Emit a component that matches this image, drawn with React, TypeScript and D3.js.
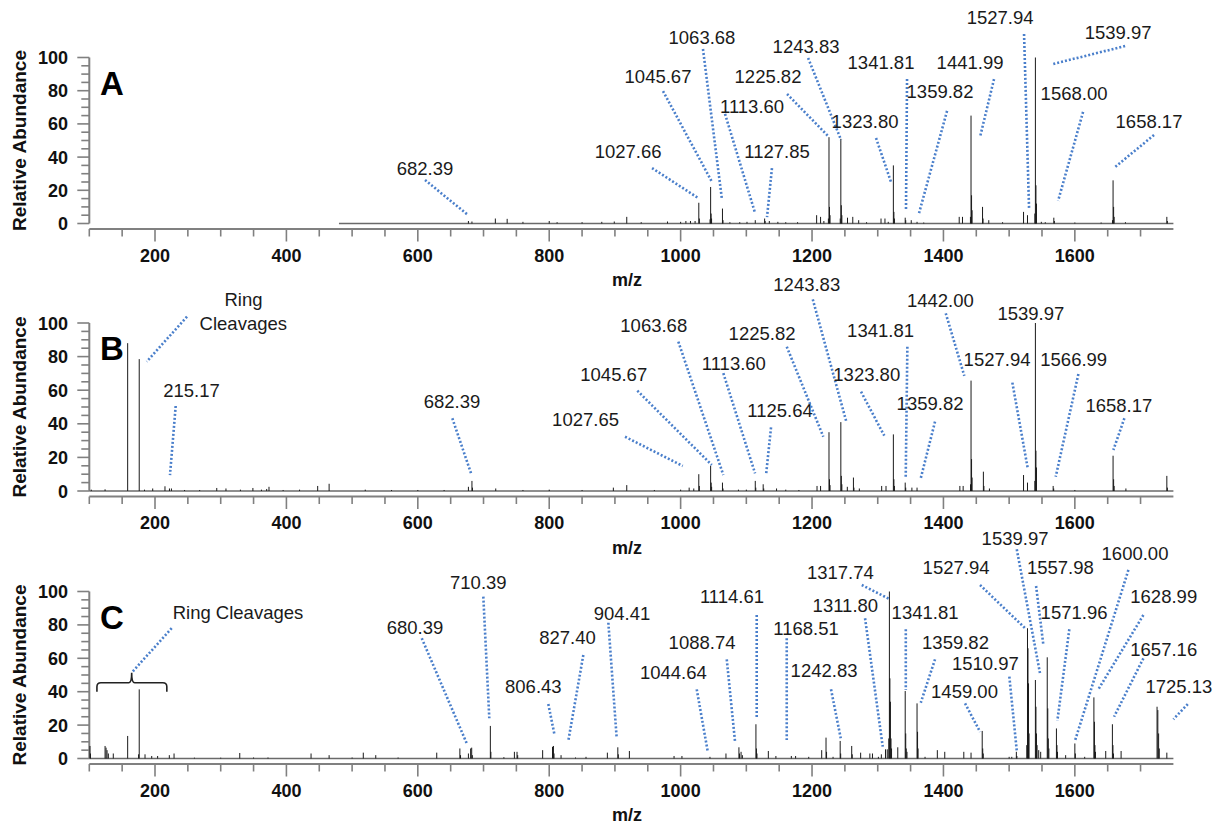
import React from "react";
import * as d3 from "d3";

// ---------- data ----------
// Axis tick values
const X_MAJOR_TICKS = [200, 400, 600, 800, 1000, 1200, 1400, 1600];
const Y_MAJOR_TICKS = [0, 20, 40, 60, 80, 100];

// Centroid peak lists: [m/z, relative abundance]
const peaksA: [number, number][] = [
  [677, 1.5], [682.39, 1.2], [718, 3], [736, 2.8], [760, 1], [800, 1.5], [812, 0.8], [850, 0.8],
  [880, 1], [899, 1.2], [918, 4], [940, 0.8], [980, 1.2], [1000, 1], [1008, 1.5], [1015, 1.5],
  [1022, 1.5], [1027.66, 12.5], [1028.5, 3], [1044.8, 2.5], [1045.67, 22], [1046.4, 6], [1047.1, 3],
  [1063.68, 9], [1064.5, 2], [1075, 0.8], [1090, 0.8], [1101, 1], [1113.6, 2], [1127.85, 3],
  [1128.6, 1.5], [1135, 1.5], [1148, 1], [1160, 0.8], [1178, 0.8], [1207, 5], [1213, 4], [1218, 1.5],
  [1224.9, 3], [1225.82, 52], [1226.6, 10], [1227.4, 5], [1242.9, 3], [1243.83, 51], [1244.6, 11],
  [1245.4, 5], [1254, 3.5], [1262, 4], [1271, 2], [1283, 0.8], [1305, 3], [1311, 3], [1316, 1],
  [1323.8, 35], [1324.6, 7], [1325.4, 3], [1341.81, 3.5], [1342.6, 2], [1351, 2], [1359.82, 1],
  [1370, 0.6], [1424, 4], [1429, 4], [1441.1, 4], [1441.99, 65], [1442.8, 17], [1443.6, 8],
  [1459.5, 10], [1460.3, 3], [1469, 2], [1490, 0.8], [1521.9, 7], [1527.94, 5], [1539.1, 6],
  [1539.97, 100], [1540.8, 23], [1541.6, 12], [1549, 1], [1555, 0.8], [1568.0, 3.5], [1568.8, 1.5],
  [1600, 0.6], [1640, 0.6], [1657.3, 2], [1658.17, 26], [1659, 10], [1659.8, 4], [1677, 0.8],
  [1740, 4], [1740.8, 1.5],
];

const peaksB: [number, number][] = [
  [103, 0.8], [124, 1], [158.4, 88], [176.0, 78.5], [184, 0.8], [196.5, 1.5], [215.17, 2.8],
  [222, 1.5], [225, 1.5], [245, 0.6], [268, 0.6], [294, 1.8], [308, 1.5], [330, 0.8], [349, 1.8],
  [362, 0.8], [370, 1.2], [373.5, 2.5], [395, 0.6], [420, 0.8], [447.6, 3], [465, 4.3], [520, 0.8],
  [560, 0.6], [600, 0.6], [640, 0.6], [677, 2.5], [682.39, 6], [683.2, 2], [718.6, 1.5], [760, 0.6],
  [800, 0.8], [850, 0.6], [897.6, 2], [918, 3.5], [960, 0.6], [1000, 0.8], [1013, 2], [1020, 1.5],
  [1027.65, 10], [1028.5, 3], [1045.67, 15], [1046.5, 5], [1047.2, 2.5], [1063.68, 5], [1064.5, 1.5],
  [1088, 0.8], [1100, 0.8], [1113.6, 6], [1114.4, 2], [1125.64, 4], [1126.5, 1.5], [1146, 1.5],
  [1160, 0.8], [1180, 0.6], [1207.6, 3], [1213, 3], [1225.82, 35], [1226.6, 7], [1227.4, 3.5],
  [1243.83, 41], [1244.6, 9], [1245.4, 4], [1253.7, 2.5], [1263, 8], [1263.8, 2], [1272, 1.5],
  [1306, 3], [1312.6, 3], [1323.8, 33.7], [1324.6, 7], [1325.4, 3], [1341.81, 5], [1342.6, 2],
  [1352, 2], [1359.82, 2], [1425, 3], [1430, 3], [1441.2, 4], [1442.0, 65.7], [1442.8, 19],
  [1443.6, 8], [1460.8, 11.5], [1461.6, 3], [1470, 1.5], [1521.9, 9.5], [1527.94, 5], [1539.1, 6],
  [1539.97, 100], [1540.8, 24], [1541.6, 14], [1566.99, 3], [1567.8, 1.5], [1600, 0.6],
  [1658.17, 21], [1659, 7], [1659.8, 3], [1677.7, 1.5], [1740, 9], [1740.8, 2],
];

const peaksC: [number, number][] = [
  [101, 7.5], [101.8, 3], [124, 7.5], [125.5, 6.5], [127, 5], [129, 3], [136.5, 3], [158.4, 13.5],
  [175, 2.5], [176, 41.4], [184.8, 2.5], [195, 1.5], [204, 1.5], [221.8, 2], [229, 3], [260, 0.5],
  [300, 0.5], [329, 3.3], [350, 0.6], [372, 0.6], [437.5, 3], [465, 2], [500, 0.6], [517, 3.5],
  [536, 2], [570, 0.6], [628.8, 3.5], [664, 6], [665, 2], [677, 3], [680.39, 6], [682, 6.5], [683, 2],
  [710.39, 19.5], [711.2, 4], [731, 0.8], [747, 4], [751, 4], [752, 2], [790, 5], [805, 7],
  [806.43, 7.5], [807.3, 3], [818, 2], [840, 0.6], [856, 1], [888.5, 3.5], [904.41, 6.7],
  [905.2, 2.5], [922, 4.5], [990, 1.5], [1002, 1.5], [1044.64, 1], [1069, 3], [1088.74, 6.7],
  [1089.6, 3], [1092, 4], [1094, 2], [1114.61, 20.5], [1115.4, 6], [1116.2, 3], [1133.5, 4.5],
  [1145, 1.5], [1168.51, 1.5], [1175, 1.5], [1195, 1], [1214.7, 5], [1221.3, 12.5], [1222.1, 4],
  [1232, 1], [1242.83, 10.5], [1243.6, 3], [1260.4, 7.5], [1261.2, 2.5], [1274, 3.5], [1288, 3],
  [1292, 3], [1301, 1], [1305.5, 2.5], [1311.8, 5.5], [1314.5, 5.5], [1316.8, 12], [1317.74, 100],
  [1318.5, 48], [1319.3, 34], [1320.2, 12], [1321, 6], [1330.5, 6.7], [1341.81, 40.4], [1342.6, 15],
  [1343.4, 6], [1344.5, 4], [1359.82, 33], [1360.6, 16], [1361.4, 6], [1372, 1], [1390.7, 5],
  [1402, 4], [1431, 4], [1442, 3.5], [1459.0, 16.5], [1459.8, 6], [1460.6, 3], [1500, 1], [1504, 1],
  [1510.97, 4], [1511.8, 1.5], [1526.8, 8], [1527.94, 78], [1528.7, 66], [1529.5, 45], [1530.3, 15],
  [1539.97, 47], [1540.8, 31], [1541.6, 15], [1542.5, 8], [1545, 5], [1548, 4], [1557.98, 60.6],
  [1558.8, 30], [1559.6, 12], [1560.5, 6], [1571.96, 18], [1572.8, 8], [1573.6, 4], [1586, 2],
  [1600.0, 9], [1600.8, 3], [1615, 1], [1628.99, 36.6], [1629.8, 22], [1630.6, 8], [1631.4, 4],
  [1647, 4.5], [1657.16, 20.5], [1658, 8], [1658.8, 3], [1670.4, 4.5], [1725.13, 31], [1726.3, 29],
  [1727.5, 15], [1728.5, 6], [1740, 3.5],
];

// Peak annotations, placed in data space: label anchor [m/z, abundance] and
// an optional dotted leader from one [m/z, abundance] point to another.
type Note = { text: string; at: [number, number]; line?: [[number, number], [number, number]] };

const notesA: Note[] = [
  { text: "682.39", at: [611, 29.2], line: [[611, 26.2], [676.4, 5.1]] },
  { text: "1027.66", at: [920, 39.5], line: [[956.5, 33.4], [1026.5, 15.4]] },
  { text: "1045.67", at: [965.6, 84.6], line: [[973.2, 79.8], [1047.8, 25]] },
  { text: "1063.68", at: [1032.5, 108.1], line: [[1034, 105.1], [1063, 14.2]] },
  { text: "1113.60", at: [1108.7, 66.6], line: [[1067.6, 66], [1113.3, 6.3]] },
  { text: "1127.85", at: [1146.7, 39.5], line: [[1139, 33.4], [1131.5, 3.9]] },
  { text: "1225.82", at: [1133, 84.6], line: [[1162, 78], [1224.4, 52.7]] },
  { text: "1243.83", at: [1190.9, 102.7], line: [[1194, 99.7], [1244.2, 50.3]] },
  { text: "1323.80", at: [1280.7, 57.5], line: [[1297.4, 51.5], [1320.2, 25]] },
  { text: "1341.81", at: [1305, 93.1], line: [[1344.6, 87], [1343, 8.1]] },
  { text: "1359.82", at: [1394.8, 75.6], line: [[1405.5, 67.8], [1362.9, 6.3]] },
  { text: "1441.99", at: [1440.5, 93.1], line: [[1477, 87], [1455.7, 52.1]] },
  { text: "1527.94", at: [1486.2, 120.2], line: [[1522.7, 114.2], [1530.3, 9.3]] },
  { text: "1539.97", at: [1665.8, 111.1], line: [[1676.5, 106.9], [1566.9, 96.1]] },
  { text: "1568.00", at: [1598.8, 74.4], line: [[1612.5, 67.2], [1574.5, 13.6]] },
  { text: "1658.17", at: [1712.9, 57.5], line: [[1720.5, 53.3], [1661.1, 34]] },
];

const notesB: Note[] = [
  { text: "Ring", at: [334.7, 110.3] },
  { text: "Cleavages", at: [334.4, 95.8], line: [[248.7, 103.8], [187.4, 77]] },
  { text: "215.17", at: [255.6, 56.1], line: [[231.5, 50.6], [222.8, 9.5]] },
  { text: "682.39", at: [652, 49.2], line: [[652.5, 43.3], [681, 10.5]] },
  { text: "1027.65", at: [855.3, 38.7], line: [[915.4, 32.3], [1003.2, 14.9]] },
  { text: "1045.67", at: [898.2, 65.5], line: [[934.1, 59.7], [1047.4, 15.5]] },
  { text: "1063.68", at: [959.1, 94.8], line: [[996.5, 88.9], [1065, 9.5]] },
  { text: "1113.60", at: [1081, 72], line: [[1065, 70.1], [1113.3, 10.5]] },
  { text: "1125.64", at: [1151.3, 44.2], line: [[1137.6, 37.9], [1130, 9.5]] },
  { text: "1225.82", at: [1123.9, 89.9], line: [[1161.5, 85.9], [1217.2, 32.3]] },
  { text: "1243.83", at: [1192, 119], line: [[1201.1, 114.1], [1251.8, 41.8]] },
  { text: "1323.80", at: [1283.3, 65.5], line: [[1274.6, 59.1], [1310, 32.9]] },
  { text: "1341.81", at: [1304.3, 91.8], line: [[1345.1, 85.9], [1342.6, 8.5]] },
  { text: "1359.82", at: [1379.6, 48.2], line: [[1387.2, 41.3], [1365.5, 7.6]] },
  { text: "1442.00", at: [1395.3, 109.3], line: [[1403.5, 105.8], [1431.8, 68.5]] },
  { text: "1527.94", at: [1481.6, 74.4], line: [[1504.9, 64.5], [1528.3, 13.5]] },
  { text: "1539.97", at: [1533.1, 101.8] },
  { text: "1566.99", at: [1598.3, 74.4], line: [[1605.4, 69.6], [1570.9, 8.5]] },
  { text: "1658.17", at: [1667, 47.2], line: [[1675.4, 43.3], [1658.6, 24.4]] },
];

const notesC: Note[] = [
  { text: "Ring Cleavages", at: [326.3, 83.5], line: [[225.4, 78], [164.5, 51.4]] },
  { text: "680.39", at: [595.8, 74.6], line: [[606, 72], [674.4, 9.1]] },
  { text: "710.39", at: [692.1, 101.3], line: [[699.7, 96.9], [708.8, 24.1]] },
  { text: "806.43", at: [775.8, 39], line: [[798.6, 32.6], [807.8, 14.7]] },
  { text: "827.40", at: [827.9, 68.4], line: [[851.9, 62], [829.1, 10.7]] },
  { text: "904.41", at: [910.8, 82.9], line: [[890, 81.3], [902.7, 12.1]] },
  { text: "1044.64", at: [988.9, 47.4], line: [[1024.5, 41.4], [1041.3, 4.1]] },
  { text: "1088.74", at: [1032.6, 65.4], line: [[1070.2, 59.4], [1082.8, 10.1]] },
  { text: "1114.61", at: [1078.2, 92.9], line: [[1115.8, 85.9], [1115.8, 24.1]] },
  { text: "1168.51", at: [1190.9, 74], line: [[1161.5, 72], [1161.5, 11.1]] },
  { text: "1242.83", at: [1218.3, 49], line: [[1228.9, 41.4], [1243.7, 12.1]] },
  { text: "1311.80", at: [1250.7, 87.9], line: [[1280.7, 84], [1307.6, 7.1]] },
  { text: "1317.74", at: [1243.1, 107.3], line: [[1275.7, 103.9], [1317.7, 95.5]] },
  { text: "1341.81", at: [1372, 83.4], line: [[1342.7, 77.4], [1342.7, 41]] },
  { text: "1359.82", at: [1418.4, 65.4], line: [[1387.2, 59.4], [1365.5, 33.4]] },
  { text: "1459.00", at: [1432.1, 36], line: [[1432.9, 33], [1455.7, 16]] },
  { text: "1510.97", at: [1463.8, 53], line: [[1500.3, 49], [1511.6, 4.7]] },
  { text: "1527.94", at: [1419.2, 110.5], line: [[1455.7, 103.9], [1524.3, 78]] },
  { text: "1539.97", at: [1509, 127.8], line: [[1511.6, 125.3], [1547, 51]] },
  { text: "1557.98", at: [1578, 110.5], line: [[1541, 103.3], [1552.1, 68]] },
  { text: "1571.96", at: [1598.8, 83.4], line: [[1591.6, 77.4], [1573.4, 22.6]] },
  { text: "1600.00", at: [1691.6, 118.9], line: [[1681.5, 112.9], [1600.3, 10.7]] },
  { text: "1628.99", at: [1735.3, 92.9], line: [[1704.3, 85.9], [1635.8, 41.4]] },
  { text: "1657.16", at: [1735.3, 61.4], line: [[1704.3, 60], [1659.7, 25]] },
  { text: "1725.13", at: [1758.3, 39], line: [[1771.9, 32.6], [1750, 23.5]] },
];

// Brace grouping the low-mass ring-cleavage ions in panel C:
// [left m/z, tip m/z, right m/z] and [end, bar, tip] abundance levels
const braceC = { mz: [111.6, 164.5, 218], level: [40, 45.4, 51.4] };

// ---------- layout ----------
const W = 1224;
const H = 827;
const FONT = "'Liberation Sans', Arial, Helvetica, sans-serif";
const AXIS = "#808080";
const LEADER = "#4a7fcb";
const X_RANGE: [number, number] = [89.3, 1173.4];
const MZ_DOMAIN: [number, number] = [100, 1750];

type PanelCfg = {
  letter: string;
  top: number;
  bottom: number;
  peaks: [number, number][];
  notes: Note[];
  baselineFrom: number;
  brace?: typeof braceC;
};

const PANELS: PanelCfg[] = [
  { letter: "A", top: 57.5, bottom: 223.5, peaks: peaksA, notes: notesA, baselineFrom: 480 },
  { letter: "B", top: 323, bottom: 491, peaks: peaksB, notes: notesB, baselineFrom: 100 },
  { letter: "C", top: 591.5, bottom: 758.5, peaks: peaksC, notes: notesC, baselineFrom: 100, brace: braceC },
];

function Panel({ cfg }: { cfg: PanelCfg }) {
  const x = d3.scaleLinear().domain(MZ_DOMAIN).range(X_RANGE);
  const y = d3.scaleLinear().domain([0, 100]).range([cfg.bottom, cfg.top]);
  const axisY = cfg.bottom + 5.5;
  const xLeft = X_RANGE[0];
  const xMinor = d3.range(100, 1701, 50);
  const yMinor = d3.range(0, 101, 5);

  let bracePath = "";
  if (cfg.brace) {
    const [l, m, r] = cfg.brace.mz.map((v) => x(v));
    const [e, b, t] = cfg.brace.level.map((v) => y(v));
    const p = d3.path();
    const rr = 4;
    p.moveTo(l, e);
    p.lineTo(l, b + rr);
    p.quadraticCurveTo(l, b, l + rr, b);
    p.lineTo(m - 3, b);
    p.quadraticCurveTo(m, b, m, t);
    p.quadraticCurveTo(m, b, m + 3, b);
    p.lineTo(r - rr, b);
    p.quadraticCurveTo(r, b, r, b + rr);
    p.lineTo(r, e);
    bracePath = p.toString();
  }

  return (
    <g>
      {/* y axis */}
      <line x1={xLeft} x2={xLeft} y1={y(0)} y2={y(100)} stroke={AXIS} strokeWidth={2} />
      {yMinor.map((v) => (
        <line
          key={"yt" + v}
          x1={xLeft - (v % 20 === 0 ? 12 : 8)}
          x2={xLeft}
          y1={y(v)}
          y2={y(v)}
          stroke={AXIS}
          strokeWidth={1.6}
        />
      ))}
      {Y_MAJOR_TICKS.map((v) => (
        <text
          key={"yl" + v}
          x={68}
          y={y(v) + 6.5}
          textAnchor="end"
          fontFamily={FONT}
          fontWeight="bold"
          fontSize={18}
          fill="#111"
        >
          {v}
        </text>
      ))}
      <text
        transform={`translate(19,${(cfg.top + cfg.bottom) / 2}) rotate(-90)`}
        textAnchor="middle"
        dominantBaseline="central"
        fontFamily={FONT}
        fontWeight="bold"
        fontSize={19}
        fill="#111"
      >
        Relative Abundance
      </text>

      {/* x axis */}
      <line x1={xLeft} x2={X_RANGE[1]} y1={axisY} y2={axisY} stroke={AXIS} strokeWidth={2} />
      {xMinor.map((v) => (
        <line
          key={"xt" + v}
          x1={x(v)}
          x2={x(v)}
          y1={axisY}
          y2={axisY + (v % 200 === 0 ? 12.5 : 7.5)}
          stroke={AXIS}
          strokeWidth={1.6}
        />
      ))}
      {X_MAJOR_TICKS.map((v) => (
        <text
          key={"xl" + v}
          x={x(v)}
          y={axisY + 32.5}
          textAnchor="middle"
          fontFamily={FONT}
          fontWeight="bold"
          fontSize={18}
          fill="#111"
        >
          {v}
        </text>
      ))}
      <text
        x={627}
        y={axisY + 57}
        textAnchor="middle"
        fontFamily={FONT}
        fontWeight="bold"
        fontSize={18}
        fill="#111"
      >
        m/z
      </text>

      {/* panel letter */}
      <text x={100} y={cfg.top + 37} fontFamily={FONT} fontWeight="bold" fontSize={33} fill="#000">
        {cfg.letter}
      </text>

      {/* spectrum */}
      <line
        x1={x(cfg.baselineFrom)}
        x2={X_RANGE[1]}
        y1={y(0)}
        y2={y(0)}
        stroke="#6a6a6a"
        strokeWidth={1.6}
      />
      {cfg.peaks.map(([mz, v], i) => (
        <line key={"p" + i} x1={x(mz)} x2={x(mz)} y1={y(0)} y2={y(v)} stroke="#1a1a1a" strokeWidth={1} />
      ))}

      {/* annotations */}
      {cfg.notes.map((n, i) => (
        <g key={"n" + i}>
          {n.line && (
            <line
              x1={x(n.line[0][0])}
              y1={y(n.line[0][1])}
              x2={x(n.line[1][0])}
              y2={y(n.line[1][1])}
              stroke={LEADER}
              strokeWidth={2.6}
              strokeDasharray="2 2"
            />
          )}
          <text
            x={x(n.at[0])}
            y={y(n.at[1])}
            textAnchor="middle"
            fontFamily={FONT}
            fontSize={18.5}
            fill="#1a1a1a"
          >
            {n.text}
          </text>
        </g>
      ))}
      {bracePath && <path d={bracePath} fill="none" stroke="#222" strokeWidth={1.6} />}
    </g>
  );
}

export default function App() {
  return (
    <svg
      width={W}
      height={H}
      viewBox={`0 0 ${W} ${H}`}
      style={{ position: "fixed", left: 0, top: 0, background: "#fff", display: "block" }}
    >
      <rect width={W} height={H} fill="#fff" />
      {PANELS.map((p) => (
        <Panel key={p.letter} cfg={p} />
      ))}
    </svg>
  );
}
